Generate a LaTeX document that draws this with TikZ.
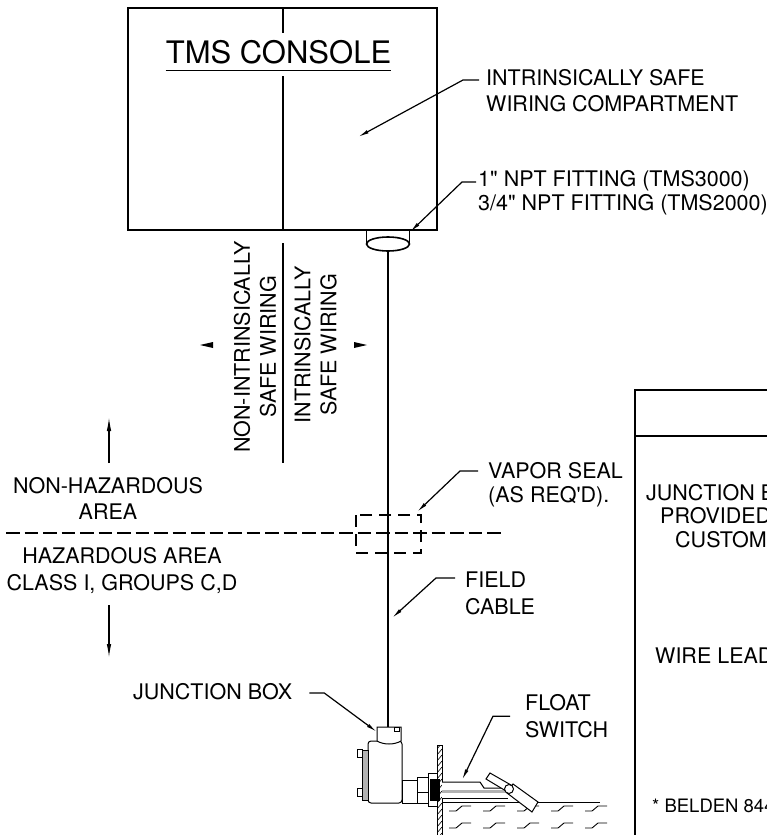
\documentclass[tikz,border=0pt]{standalone}
\usepackage{fontspec}
\setmainfont{TeX Gyre Heros}[Ligatures=TeXOff]
\usetikzlibrary{positioning,calc,arrows.meta}

\begin{document}
\begin{tikzpicture}[x=1pt,y=-1pt]

	\tikzset{labelstyle/.style={inner sep=0pt,font=\fontsize{21.5}{#1}\selectfont,align=left},labelstyle/.default=26}
	\tikzset{leaderline/.style={line width=1.2pt,-{Latex[length=11pt,width=3.6pt]}}}
	\tikzset{zonearrow/.style={line width=1.3pt,-{Latex[length=14pt,width=4.5pt]}}}
	\tikzset{boxline/.style={line width=1.6pt}}
	\tikzset{zoneline/.style={line width=1.4pt,dash pattern=on 13.5pt off 5pt}}
	\tikzset{sealline/.style={line width=1.4pt,dash pattern=on 12pt off 7pt}}
	\tikzset{partline/.style={line width=1pt,fill=white}}

	\newcommand\liquidMark[2]
	{
		\draw[line width=0.9pt] (#1,#2+5) -- (#1+7,#2+5) -- (#1+13,#2) -- (#1+22,#2);
	}

	\useasboundingbox (0,0) rectangle (767,835);
	\clip (0,0) rectangle (767,835);

	% console
	\draw[boxline] (128,8) rectangle (437,230);
	\node[inner sep=0pt,font=\fontsize{31}{36}\selectfont,anchor=base] (console) at (278.5,63.3) {TMS CONSOLE};
	\draw[line width=1.5pt] ([yshift=-7pt]console.base west) -- ([yshift=-7pt]console.base east);
	\draw[boxline] (283,8) -- (283,33) (283,76) -- (283,230) (283,243) -- (283,463);

	% wiring sides
	\node[labelstyle,align=center,rotate=90] (nonIS) at (255,347) {NON-INTRINSICALLY\\SAFE WIRING};
	\node[labelstyle,align=center,rotate=90] (isWiring) at (315.5,345) {INTRINSICALLY\\SAFE WIRING};
	\fill (200,345) -- (213,342) -- (213,348) -- cycle;
	\fill (367,345) -- (354,342) -- (354,348) -- cycle;

	\node[labelstyle,anchor=base west] (lblComp) at (486,111) {INTRINSICALLY SAFE\\WIRING COMPARTMENT};
	\coordinate (tipComp) at (358,137);
	\draw[leaderline] ([xshift=-7pt,yshift=31pt]lblComp.base west) -- ++(-16,0) -- (tipComp);

	% fitting
	\draw[boxline] (366.5,230) -- (366.5,244) (409.5,230) -- (409.5,244);
	\draw[boxline] (388,244) ellipse [x radius=21.5, y radius=7];
	\coordinate (fitBot) at (388,251);
	\coordinate (tipFit) at (410,232);
	\node[labelstyle=23.5,anchor=base west] (lblFit) at (478,210) {1" NPT FITTING (TMS3000)\\3/4" NPT FITTING (TMS2000)};
	\draw[leaderline] ([xshift=-2pt,yshift=28pt]lblFit.base west) -- ++(-14,0) -- (tipFit);

	% zones
	\draw[zoneline] (6,533) -- (503,533);
	\draw[sealline] (356,515) rectangle (421,553);
	\node[labelstyle,align=center,anchor=base] (lblSafe) at (108,519) {NON-HAZARDOUS\\AREA};
	\node[labelstyle=27,align=center,anchor=base] (lblHaz) at (122,590.5) {HAZARDOUS AREA\\CLASS I, GROUPS C,D};
	\coordinate (upFrom) at (109,463);
	\coordinate (upTo) at (109,417);
	\coordinate (downFrom) at (109,605);
	\coordinate (downTo) at (109,658);
	\draw[zonearrow] (upFrom) -- (upTo);
	\draw[zonearrow] (downFrom) -- (downTo);

	\node[labelstyle=24,anchor=base west] (lblSeal) at (488,502.5) {VAPOR SEAL\\(AS REQ'D).};
	\coordinate (tipSeal) at (417,512);
	\draw[leaderline] ([xshift=-10pt,yshift=31.5pt]lblSeal.base west) -- ++(-18,0) -- (tipSeal);

	\node[labelstyle=27,anchor=base west] (lblField) at (465,614.5) {FIELD\\CABLE};
	\coordinate (tipField) at (392,618);
	\draw[leaderline] ([xshift=-10pt,yshift=36.5pt]lblField.base west) -- ++(-19,0) -- (tipField);

	% cable
	\coordinate (jbTop) at (388,727);
	\draw[line width=1.4pt] (fitBot) -- (jbTop);

	% junction box
	\draw[partline,rounded corners=3pt] (368,803) -- (368,741) -- (402,741) -- (402,803) -- cycle;
	\draw[partline] (377,741) -- (377,727) -- (401,727) -- (401,741) .. controls (394,745) and (384,745) .. (377,741) -- cycle;
	\draw[line width=0.8pt] (394,727) rectangle (399,731);
	\draw[fill=gray!60,line width=0.8pt] (362,750) rectangle (368,800);
	\draw[partline] (357,749) rectangle (362,757);
	\draw[partline] (357,788) rectangle (362,796);
	\draw[partline] (402,780) rectangle (417,803);
	\draw[partline] (417,777) rectangle (429,803);
	\draw[line width=1pt] (417,792) -- (429,792);

	\node[labelstyle,anchor=base west] (lblJB) at (133,699.5) {JUNCTION BOX};
	\coordinate (tipJB) at (377,732);
	\draw[leaderline] ([xshift=17pt,yshift=6.5pt]lblJB.base east) -- ++(15,0) -- (tipJB);

	% wall
	\draw[partline] (437,745) rectangle (442,840);
	\begin{scope}
		\clip (437,745) rectangle (442,840);
		\foreach \y in {745,751,...,845}
		{
			\draw[line width=0.6pt] (437,\y+4) -- (442,\y-2);
		}
	\end{scope}
	\draw[partline] (428,773) rectangle (437,806);
	\fill (430,779) rectangle (440,801);

	% liquid
	\draw[line width=1pt] (442,802) -- (600,802);
	\foreach \x in {449,483,517,551,585}
	{
		\liquidMark{\x}{806}
		\liquidMark{\x}{823}
	}

	% float switch
	\fill[white] (442,782) rectangle (506,798);
	\draw[line width=3pt,gray!60] (442,791.5) -- (505,791.5);
	\draw[line width=1pt] (442,782) -- (480,782) -- (484,788) -- (502,788) -- (507,786);
	\draw[line width=1pt] (442,798) -- (508,798);
	\draw[partline] (490,773) -- (486,779) -- (506,791) -- (511,785) -- cycle;
	\draw[partline] (513,784) -- (538,802) -- (532,812) -- (507,793) -- cycle;
	\draw[partline] (509,789) circle [radius=4.5];

	\node[labelstyle=27,anchor=base west] (lblFloat) at (525,737.5) {FLOAT\\SWITCH};
	\coordinate (tipFloat) at (462,780);
	\draw[leaderline] ([xshift=-15pt]lblFloat.west) -- ++(-17,0) -- (tipFloat);

	% table
	\draw[boxline] (780,390) -- (635,390) -- (635,845);
	\draw[boxline] (635,436) -- (780,436);
	\node[labelstyle,anchor=base west] (colJB) at (646,500) {JUNCTION B};
	\node[labelstyle,anchor=base west] (colBy) at (660,523) {PROVIDED};
	\node[labelstyle,anchor=base west] (colCust) at (675,547) {CUSTOM};
	\node[labelstyle,anchor=base west] (colLead) at (655,663) {WIRE LEAD};
	\node[inner sep=0pt,font=\fontsize{18.5}{22}\selectfont,anchor=base west] (colCable) at (652,812) {* BELDEN 844};

\end{tikzpicture}
\end{document}
